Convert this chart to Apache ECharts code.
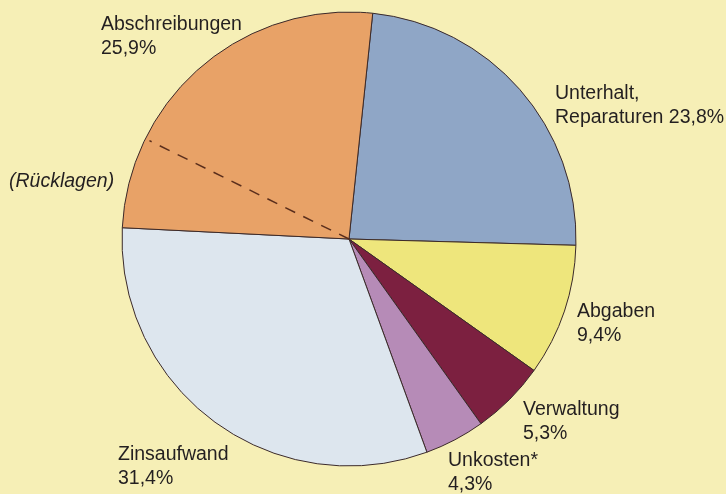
<!DOCTYPE html>
<html>
<head>
<meta charset="utf-8">
<script src="https://cdn.jsdelivr.net/npm/echarts@6/dist/echarts.min.js"></script>
<style>
  html, body { margin: 0; padding: 0; background: #f6efb6; }
  #pie { width: 726px; height: 494px; }
</style>
</head>
<body>
<div id="pie"></div>
<script>
// Daten (Anteile in %)
const categories = ['Unterhalt,\nReparaturen', 'Abgaben', 'Verwaltung', 'Unkosten*', 'Zinsaufwand', 'Abschreibungen'];
const values = [23.8, 9.4, 5.3, 4.3, 31.4, 25.9];
// Anteil der Rücklagen innerhalb der Abschreibungen (gestrichelte Linie)
const ruecklagen = 6.5;
const ruecklagenLabel = '(Rücklagen)';

const colors = ['#8fa6c6', '#eee67c', '#7c2040', '#b68bb7', '#dde6ee', '#e8a267'];

// Layout
const cx = 349, cy = 239, radius = 227, startAngle = 84;
const labelPos = {
  'Unterhalt,\nReparaturen': [555, 82],
  'Abgaben': [577, 300],
  'Verwaltung': [523, 398],
  'Unkosten*': [448, 449],
  'Zinsaufwand': [118, 443],
  'Abschreibungen': [101, 13]
};

const fmt = (v) => v.toFixed(1).replace('.', ',') + '%';

const chart = echarts.init(document.getElementById('pie'));
window.addEventListener('resize', () => chart.resize());

// Winkel der gestrichelten Linie aus den Daten
const total = values.reduce((a, b) => a + b, 0);
const before = total - values[values.length - 1] + ruecklagen;
const cw = (90 - startAngle + before / total * 360) * Math.PI / 180;
const rIn = radius * 0.98;

const option = {
  backgroundColor: '#f6efb6',
  color: colors,
  textStyle: { fontFamily: 'Liberation Sans, Arial, sans-serif' },
  graphic: [
    {
      type: 'line',
      z: 100,
      shape: { x1: cx, y1: cy, x2: cx + rIn * Math.sin(cw), y2: cy - rIn * Math.cos(cw) },
      style: { stroke: '#5a2e1c', lineWidth: 1.5, lineDash: [11, 9] }
    },
    {
      type: 'text',
      left: 9,
      top: 170,
      style: {
        text: ruecklagenLabel,
        fill: '#231f20',
        font: 'italic 19.5px "Liberation Sans", Arial, sans-serif',
        lineHeight: 24
      }
    }
  ],
  series: [
    {
      type: 'pie',
      center: [cx, cy],
      radius: radius,
      startAngle: startAngle,
      clockwise: true,
      avoidLabelOverlap: false,
      silent: true,
      itemStyle: { borderColor: '#3b2a2a', borderWidth: 1 },
      label: {
        show: true,
        position: 'outside',
        color: '#231f20',
        fontSize: 19.5,
        lineHeight: 24,
        formatter: (p) => p.name + (p.name.indexOf('\n') >= 0 ? ' ' : '\n') + fmt(p.value)
      },
      labelLine: { show: false },
      labelLayout: (p) => {
        const name = categories[p.dataIndex];
        const pos = labelPos[name];
        return { x: pos[0], y: pos[1], align: 'left', verticalAlign: 'top' };
      },
      emphasis: { disabled: true },
      data: categories.map((c, i) => ({ name: c, value: values[i] }))
    }
  ]
};
chart.setOption(option, true);
</script>
</body>
</html>
